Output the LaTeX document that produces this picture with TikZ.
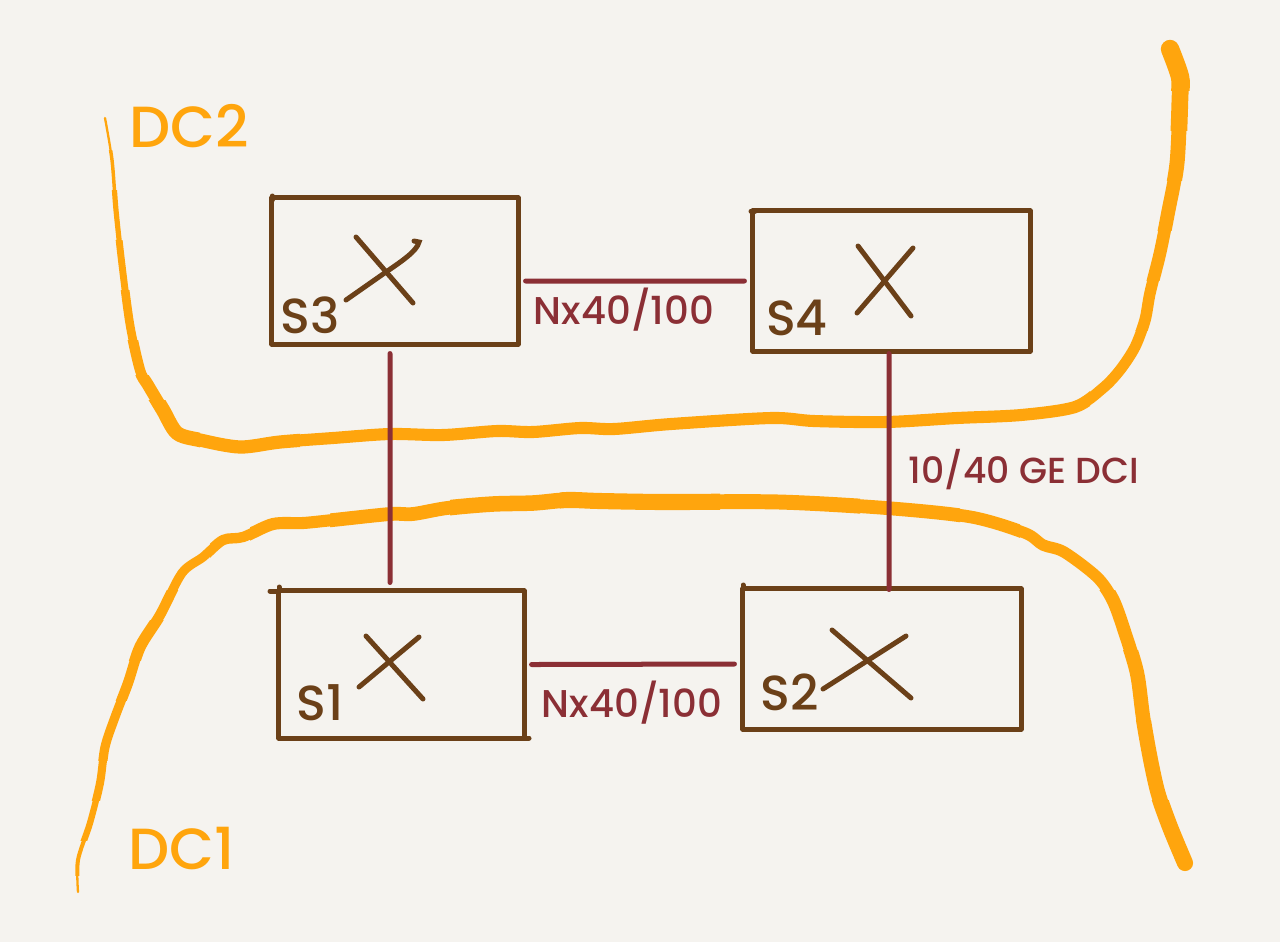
\documentclass[tikz,border=0pt]{standalone}
\usepackage{fontspec}
\setmainfont{Poppins Medium}
\usepackage{xcolor}
\definecolor{paper}{HTML}{F5F3EF}
\definecolor{boxbrown}{HTML}{6B4018}
\definecolor{linkred}{HTML}{8B2F35}
\definecolor{dcorange}{HTML}{FFA50D}
\newcommand\dctwopath{plot[smooth] coordinates {(105,118) (112,160) (116,210) (122,265) (130,325) (140,370)
    (148,385) (163,410) (177,433) (200,440) (240,447) (280,442) (333,438) (390,434) (443,435) (497,431)
    (533,432) (580,428) (614,429) (671,424) (771,418) (814,421) (886,422) (957,418) (1021,415) (1075,407)
    (1103,388) (1120,370) (1135,347) (1145,320) (1150,293) (1160,253) (1168,213) (1177,163) (1180,97)
    (1180,77) (1170,49)}}
\newcommand\dconepath{plot[smooth] coordinates {(78,892) (78,860) (90,823) (100,783) (105,747) (115,717)
    (128,683) (140,647) (160,615) (182,573) (203,557) (223,540) (243,537) (273,524) (303,523) (333,520)
    (390,514) (413,514) (447,508) (493,504) (533,503) (567,500) (600,501) (664,502) (779,502) (886,508)
    (971,517) (1025,533) (1043,545) (1064,552) (1097,577) (1113,600) (1125,633) (1137,673) (1143,717)
    (1150,757) (1158,793) (1170,827) (1185,863)}}
\tikzset{
  dcline/.style={draw=dcorange,line cap=round,line join=round},
  switchbox/.style={draw=boxbrown,line width=.05cm,inner sep=0pt,line join=round},
  crossline/.style={draw=boxbrown,line width=.05cm,line cap=round},
  linkline/.style={draw=linkred,line width=.05cm,line cap=round},
  boxlabel/.style={text=boxbrown,font=\fontsize{14}{14}\selectfont,inner sep=0pt},
  linklabel/.style={text=linkred,font=\fontsize{11}{12}\selectfont,inner sep=0pt},
  dclabel/.style={text=dcorange,font=\fontsize{16.5}{17}\selectfont,inner sep=0pt}
}

\begin{document}
\begin{tikzpicture}[x=.01cm,y=-.01cm]
  \fill[paper] (0,0) rectangle (1280,942);

  % DC2 border, one width per band
  \foreach \w/\a/\b in {.02/{0,0}/{200,150}, .03/{0,150}/{200,190}, .045/{0,190}/{200,240},
      .06/{0,240}/{200,290}, .075/{0,290}/{200,340}, .09/{0,340}/{200,375}, .105/{0,375}/{200,400},
      .125/{0,400}/{200,500}, .115/{200,300}/{300,500}, .105/{300,300}/{1090,500},
      .095/{1090,330}/{1280,500}, .1/{1090,280}/{1280,330}, .11/{1090,230}/{1280,280},
      .12/{1090,180}/{1280,230}, .13/{1090,130}/{1280,180}, .145/{1090,90}/{1280,130}, .16/{1090,0}/{1280,90}} {
    \begin{scope}
      \clip (\a) rectangle (\b);
      \draw[dcline,line width=1.15*\w cm] \dctwopath;
    \end{scope}
  }

  % DC1 border, one width per band
  \foreach \w/\a/\b in {.02/{0,875}/{210,942}, .035/{0,840}/{210,875}, .055/{0,800}/{210,840},
      .07/{0,760}/{210,800}, .08/{0,700}/{210,760}, .09/{0,660}/{210,700}, .1/{0,620}/{210,660},
      .09/{0,590}/{210,620}, .08/{0,450}/{210,590}, .09/{210,450}/{250,600}, .105/{250,450}/{330,600},
      .12/{330,450}/{450,600}, .135/{450,450}/{560,600}, .14/{560,450}/{720,600}, .13/{720,450}/{860,600},
      .12/{860,450}/{960,600}, .11/{960,450}/{1020,600}, .1/{1020,450}/{1280,590},
      .115/{1020,590}/{1280,650}, .125/{1020,650}/{1280,720}, .13/{1020,720}/{1280,800}, .14/{1020,800}/{1280,942}} {
    \begin{scope}
      \clip (\a) rectangle (\b);
      \draw[dcline,line width=1.15*\w cm] \dconepath;
    \end{scope}
  }

  \node[dclabel] (dc2) at (189,126) {DC2};
  \node[dclabel] (dc1) at (182,848) {DC1};

  % switches
  \node[switchbox,minimum width=2.46cm,minimum height=1.46cm] (s3) at (395,271) {};
  \node[switchbox,minimum width=2.77cm,minimum height=1.40cm] (s4) at (891.5,281) {};
  \node[switchbox,minimum width=2.45cm,minimum height=1.47cm] (s1) at (401.5,664.5) {};
  \node[switchbox,minimum width=2.78cm,minimum height=1.40cm] (s2) at (882,659) {};

  % corner overshoots
  \draw[crossline] (272,196) -- (272,200);
  \draw[crossline] (270,591) -- (279,591) (279,587) -- (279,591);
  \draw[crossline] (524,738) -- (529,738);
  \draw[crossline] (743,585) -- (743,589);
  \draw[crossline] (751,211) -- (755,211);

  % crosses
  \draw[crossline] (356,237) -- (413,303);
  \draw[crossline] (346,300) -- (386,272) .. controls (402,261) and (417,251) .. (419,242) -- (414,241);
  \draw[crossline] (858,246) -- (911,316);
  \draw[crossline] (857,313) -- (913,248);
  \draw[crossline] (366,636) -- (423,699);
  \draw[crossline] (359,687) -- (419,637);
  \draw[crossline] (832,630) -- (911,698);
  \draw[crossline] (823,689) -- (906,636);

  \node[boxlabel] (s3lab) at (310,315) {S3};
  \node[boxlabel] (s4lab) at (797,318) {S4};
  \node[boxlabel] (s1lab) at (320,703) {S1};
  \node[boxlabel] (s2lab) at (790,692) {S2};

  % links
  \draw[linkline] ([xshift=.05cm,yshift=-.10cm]s3.east) -- ([xshift=-.06cm]s4.west);
  \draw[linkline] ([xshift=.05cm]s1.east) -- ([xshift=-.06cm,yshift=-.05cm]s2.west);
  \draw[linkline] ([xshift=-.05cm,yshift=-.07cm]s3.south) -- ([xshift=-.115cm,yshift=.06cm]s1.north);
  \draw[linkline] ([xshift=-.025cm]s4.south) -- ([xshift=.07cm,yshift=-.03cm]s2.north);

  \node[linklabel] (l34) at (624,310) {Nx40/100};
  \node[linklabel] (l12) at (632,703) {Nx40/100};
  \node[linklabel,font=\fontsize{10.3}{11}\selectfont] (l24) at (1024,470) {10/40 GE DCI};
\end{tikzpicture}
\end{document}
